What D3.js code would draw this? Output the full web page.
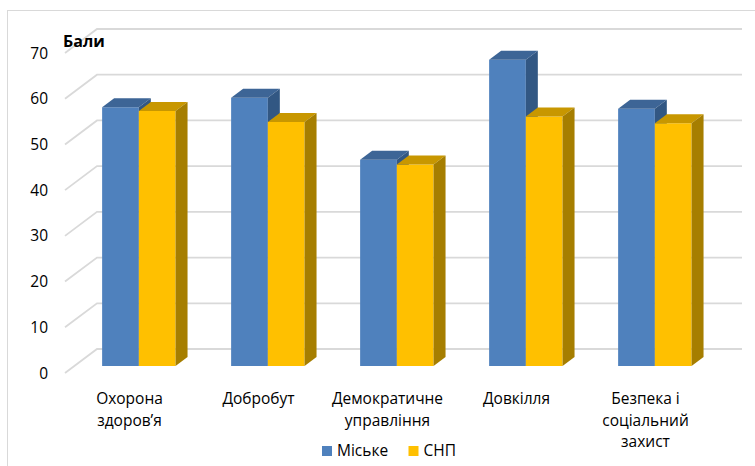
<!DOCTYPE html>
<html>
<head>
<meta charset="utf-8">
<script src="https://cdn.jsdelivr.net/npm/d3@7"></script>
<style>
  html, body { margin: 0; padding: 0; background: #fff; }
  svg { display: block; }
  text { font-family: "Open Sans", "Noto Sans", sans-serif; fill: #000; }
</style>
</head>
<body>
<div id="chart"></div>
<script>
// Categories, label lines and series values
const categories = ["Охорона здоров’я", "Добробут", "Демократичне управління", "Довкілля", "Безпека і соціальний захист"];
const categoryLines = [["Охорона", "здоров’я"], ["Добробут"], ["Демократичне", "управління"], ["Довкілля"], ["Безпека і", "соціальний", "захист"]];
const seriesNames = ["Міське", "СНП"];
const urbanValues = [56.6, 58.7, 45.1, 67.0, 56.3];
const snpValues = [55.8, 53.4, 44.1, 54.6, 53.1];
const yTicks = [0, 10, 20, 30, 40, 50, 60, 70];
const axisTitle = "Бали";

const W = 755, H = 466;

// Colours per series: front face, top face, side face
const palette = [
  { front: "#4F81BD", top: "#3D6596", side: "#325783" },
  { front: "#FFC000", top: "#C89700", side: "#A67E00" }
];

const svg = d3.select("#chart").append("svg")
  .attr("width", W).attr("height", H);

// Outer frame
svg.append("rect")
  .attr("x", 7.5).attr("y", 10.5)
  .attr("width", W + 10).attr("height", H + 10)
  .attr("fill", "none").attr("stroke", "#D9D9D9").attr("stroke-width", 1);

// Scales on the front plane of the chart
const y = d3.scaleLinear().domain([0, 70]).range([373, 53]);
const x0 = d3.scaleBand().domain(categories).range([65, 710]);
const x1 = d3.scaleBand().domain(seriesNames).range([0, x0.bandwidth()]).paddingOuter(0.757);

// Oblique depth projection: d = 0 at the front, d = 1 at the back wall
const DX = 32, DY = -24;
const proj = (x, yy, d) => [x + DX * d, yy + DY * d];
const barFront = 7 / 24, barBack = 16 / 24;

// Gridlines: side wall diagonal plus back wall line
const grid = svg.append("g");
yTicks.forEach(t => {
  const a = proj(x0.range()[0], y(t), 0);
  const b = proj(x0.range()[0], y(t), 1);
  const c = proj(x0.range()[1], y(t), 1);
  grid.append("path")
    .attr("d", `M${a[0]},${a[1]}L${b[0]},${b[1]}L${c[0]},${c[1]}`)
    .attr("fill", "none").attr("stroke", "#D9D9D9").attr("stroke-width", 1.8);
});

// Y tick labels
svg.append("g").selectAll("text").data(yTicks).join("text")
  .attr("x", 48).attr("y", d => y(d))
  .attr("dy", "0.36em")
  .attr("text-anchor", "end")
  .attr("font-size", "15.5px")
  .text(d => d);

// Axis title
svg.append("text")
  .attr("x", 63).attr("y", 47)
  .attr("font-size", "16px").attr("font-weight", "bold")
  .text(axisTitle);

// Bars as 3D boxes
const seriesValues = [urbanValues, snpValues];
const pts = arr => arr.map(p => p.join(",")).join(" ");
const bars = svg.append("g");
categories.forEach((cat, i) => {
  seriesNames.forEach((s, k) => {
    const v = seriesValues[k][i];
    const xl = x0(cat) + x1(s);
    const xr = xl + x1.bandwidth();
    const yt = y(v), yb = y(0);
    const col = palette[k];
    const g = bars.append("g");
    // front face
    g.append("polygon")
      .attr("points", pts([proj(xl, yt, barFront), proj(xr, yt, barFront), proj(xr, yb, barFront), proj(xl, yb, barFront)]))
      .attr("fill", col.front);
    // top face
    g.append("polygon")
      .attr("points", pts([proj(xl, yt, barFront), proj(xr, yt, barFront), proj(xr, yt, barBack), proj(xl, yt, barBack)]))
      .attr("fill", col.top);
    // side face
    g.append("polygon")
      .attr("points", pts([proj(xr, yt, barFront), proj(xr, yt, barBack), proj(xr, yb, barBack), proj(xr, yb, barFront)]))
      .attr("fill", col.side);
  });
});

// Category labels
const lab = svg.append("g");
categories.forEach((cat, i) => {
  const cx = x0(cat) + x0.bandwidth() / 2;
  const t = lab.append("text")
    .attr("text-anchor", "middle")
    .attr("font-size", "15.5px");
  categoryLines[i].forEach((line, j) => {
    t.append("tspan").attr("x", cx).attr("y", 404 + j * 21.7).text(line);
  });
});

// Legend
const legendX = [322, 408.5];
const legend = svg.append("g");
seriesNames.forEach((s, k) => {
  legend.append("rect")
    .attr("x", legendX[k]).attr("y", 446)
    .attr("width", 10).attr("height", 10)
    .attr("fill", palette[k].front);
  legend.append("text")
    .attr("x", legendX[k] + 15).attr("y", 456)
    .attr("font-size", "15.5px")
    .text(s);
});
</script>
</body>
</html>
